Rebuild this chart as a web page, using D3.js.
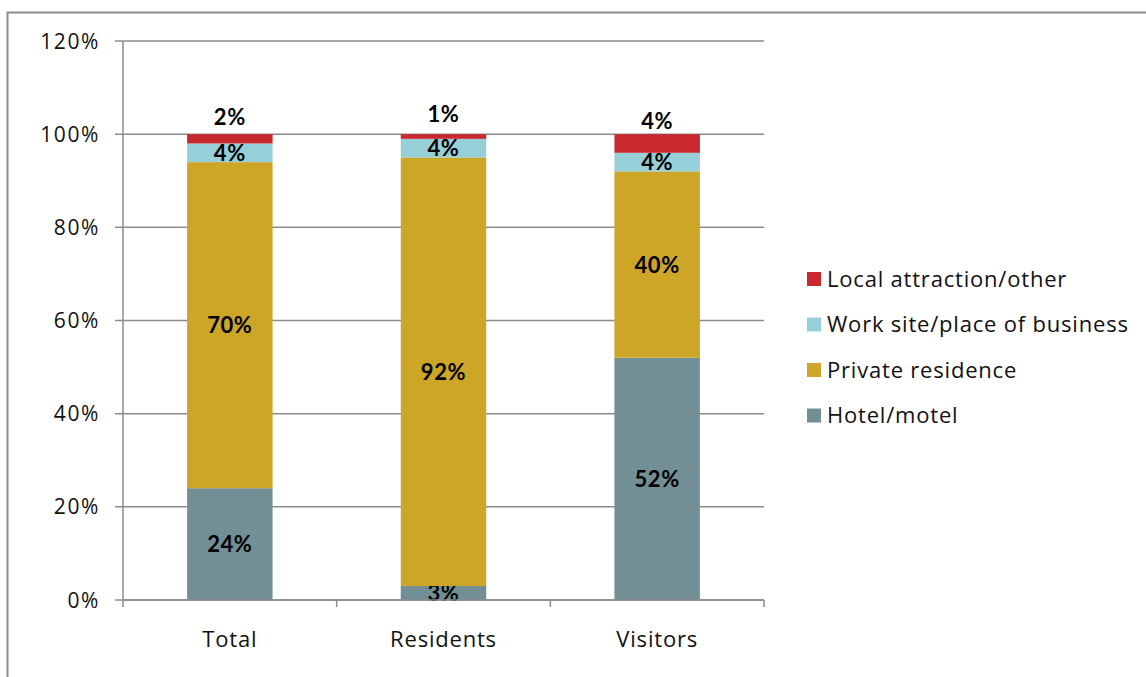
<!DOCTYPE html>
<html>
<head>
<meta charset="utf-8">
<script src="https://cdn.jsdelivr.net/npm/d3@7"></script>
<style>
  html, body { margin: 0; padding: 0; background: #fff; }
  svg { display: block; font-family: Lato, "Open Sans", sans-serif; }
  .txt { font-family: "Open Sans", Lato, sans-serif; letter-spacing: 0.8px; }
  .ytxt { font-family: "Open Sans", Lato, sans-serif; letter-spacing: 1.6px; }
  .val { letter-spacing: 0.6px; }
</style>
</head>
<body>
<svg id="chart" width="1146" height="677"></svg>
<script>
// Lodging type shares by visitor group (percent)
const categories = ["Total", "Residents", "Visitors"];
const seriesNames = ["Hotel/motel", "Private residence", "Work site/place of business", "Local attraction/other"];
const hotelMotel = [24, 3, 52];
const privateResidence = [70, 92, 40];
const workSite = [4, 4, 4];
const localAttraction = [2, 1, 4];
const yTicks = [0, 20, 40, 60, 80, 100, 120];

const seriesValues = [hotelMotel, privateResidence, workSite, localAttraction];
const colors = ["#718F94", "#CDA527", "#96CFD8", "#C8282E"];

const svg = d3.select("#chart");

// outer frame
svg.append("rect")
  .attr("x", 7.5).attr("y", 12.5)
  .attr("width", 1300).attr("height", 900)
  .attr("fill", "none").attr("stroke", "#8c8c8c").attr("stroke-width", 2);

const plot = { left: 123, right: 764, top: 41, bottom: 600 };

const x = d3.scaleBand().domain(categories).range([plot.left, plot.right]).paddingInner(0.6).paddingOuter(0.3);
const xOuter = d3.scaleBand().domain(categories).range([plot.left, plot.right]);
const y = d3.scaleLinear().domain([0, 120]).range([plot.bottom, plot.top]);

// gridlines
svg.append("g")
  .selectAll("line")
  .data(yTicks)
  .join("line")
  .attr("x1", plot.left - 8).attr("x2", plot.right)
  .attr("y1", d => y(d)).attr("y2", d => y(d))
  .attr("stroke", "#8c8c8c").attr("stroke-width", 1.5);

// y axis line
svg.append("line")
  .attr("x1", plot.left).attr("x2", plot.left)
  .attr("y1", plot.top).attr("y2", plot.bottom + 7)
  .attr("stroke", "#8c8c8c").attr("stroke-width", 1.5);

// y tick labels
svg.append("g")
  .selectAll("text")
  .data(yTicks)
  .join("text")
  .attr("class", "ytxt")
  .attr("x", 100).attr("y", d => y(d))
  .attr("dy", "0.36em")
  .attr("text-anchor", "end")
  .attr("font-size", 21)
  .attr("fill", "#111")
  .text(d => d + "%");

// stacked data
const rows = categories.map((c, i) => {
  const r = { category: c };
  seriesNames.forEach((s, j) => r[s] = seriesValues[j][i]);
  return r;
});
const stacked = d3.stack().keys(seriesNames)(rows);

const layers = svg.append("g")
  .selectAll("g")
  .data(stacked)
  .join("g")
  .attr("fill", (d, i) => colors[i]);

layers.selectAll("rect")
  .data(d => d)
  .join("rect")
  .attr("x", d => x(d.data.category))
  .attr("width", x.bandwidth())
  .attr("y", d => y(d[1]))
  .attr("height", d => y(d[0]) - y(d[1]));

// x axis line and category ticks
svg.append("line")
  .attr("x1", plot.left).attr("x2", plot.right)
  .attr("y1", plot.bottom).attr("y2", plot.bottom)
  .attr("stroke", "#8c8c8c").attr("stroke-width", 1.5);

svg.append("g")
  .selectAll("line")
  .data(categories)
  .join("line")
  .attr("x1", d => xOuter(d) + xOuter.bandwidth()).attr("x2", d => xOuter(d) + xOuter.bandwidth())
  .attr("y1", plot.bottom).attr("y2", plot.bottom + 7)
  .attr("stroke", "#8c8c8c").attr("stroke-width", 1.5);

svg.append("g")
  .selectAll("text")
  .data(categories)
  .join("text")
  .attr("class", "txt")
  .attr("x", d => x(d) + x.bandwidth() / 2)
  .attr("y", 639)
  .attr("dy", "0.36em")
  .attr("text-anchor", "middle")
  .attr("font-size", 22)
  .attr("fill", "#111")
  .text(d => d);

// value labels
layers.each(function(layer, i) {
  const top = i === seriesNames.length - 1;
  d3.select(this).selectAll("text")
    .data(layer)
    .join("text")
    .attr("class", "val")
    .attr("x", d => x(d.data.category) + x.bandwidth() / 2)
    .attr("y", d => (y(d[0]) + y(d[1])) / 2 - (top ? 22 : 0))
    .attr("dy", "0.36em")
    .attr("text-anchor", "middle")
    .attr("font-size", 22)
    .attr("font-weight", "bold")
    .attr("fill", "#000")
    .text(d => (d[1] - d[0]) + "%");
});

// legend (top series first)
const legendItems = seriesNames.map((s, i) => ({ name: s, color: colors[i] })).reverse();
const legend = svg.append("g")
  .selectAll("g")
  .data(legendItems)
  .join("g")
  .attr("transform", (d, i) => `translate(807, ${279 + i * 45.5})`);

legend.append("rect")
  .attr("x", 0).attr("y", -7)
  .attr("width", 14).attr("height", 14)
  .attr("fill", d => d.color);

legend.append("text")
  .attr("class", "txt")
  .attr("x", 20).attr("y", 0)
  .attr("dy", "0.36em")
  .attr("font-size", 22)
  .attr("fill", "#111")
  .text(d => d.name);
</script>
</body>
</html>
